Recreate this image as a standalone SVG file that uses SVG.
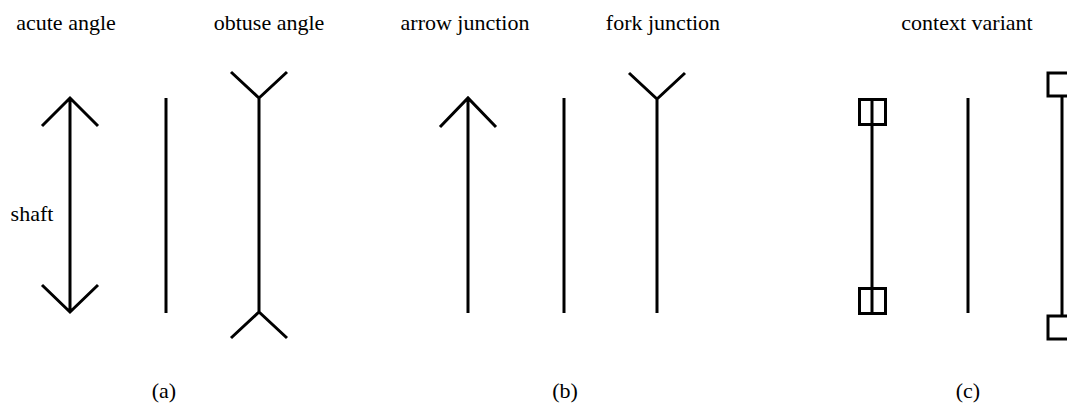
<svg xmlns="http://www.w3.org/2000/svg" width="1067" height="405" viewBox="0 0 1067 405">
<style>
.t{font-family:'Liberation Serif',serif;font-size:22px;fill:#000;text-anchor:middle}
.ln{stroke:#000;stroke-width:3;fill:none;stroke-linecap:butt;stroke-linejoin:miter}
</style>
<rect width="1067" height="405" fill="#fff"/>
<g id="labels">
<text class="t" x="66" y="30">acute angle</text>
<text class="t" x="269" y="30">obtuse angle</text>
<text class="t" x="465" y="30">arrow junction</text>
<text class="t" x="663" y="30">fork junction</text>
<text class="t" x="967" y="30">context variant</text>
<text class="t" x="32" y="221">shaft</text>
<text class="t" x="164" y="398">(a)</text>
<text class="t" x="565" y="398">(b)</text>
<text class="t" x="968" y="398">(c)</text>
</g>
<g id="a-acute">
<path class="ln" d="M70 98 V312 M42 126 L70 98 L98 126 M42 285 L70 312 L98 285"/>
</g>
<g id="a-plain">
<path class="ln" d="M166 98 V313"/>
</g>
<g id="a-obtuse">
<path class="ln" d="M259 98 V312 M231 72 L259 98 L287 72 M231 338 L259 312 L287 338"/>
</g>
<g id="b-arrow">
<path class="ln" d="M468 98 V313 M440 127 L468 98 L496 127"/>
</g>
<g id="b-plain">
<path class="ln" d="M564 98 V313"/>
</g>
<g id="b-fork">
<path class="ln" d="M657 99 V313 M629 73 L657 99 L685 73"/>
</g>
<g id="c-boxes">
<path class="ln" d="M872 99 V313"/>
<rect class="ln" x="859.5" y="99.5" width="26" height="25"/>
<rect class="ln" x="859.5" y="288.5" width="26" height="25"/>
</g>
<g id="c-plain">
<path class="ln" d="M968 98 V313"/>
</g>
<g id="c-wide">
<path class="ln" d="M1062 95 V316"/>
<rect class="ln" x="1048" y="73" width="40" height="23"/>
<rect class="ln" x="1048" y="316" width="40" height="23"/>
</g>
</svg>
